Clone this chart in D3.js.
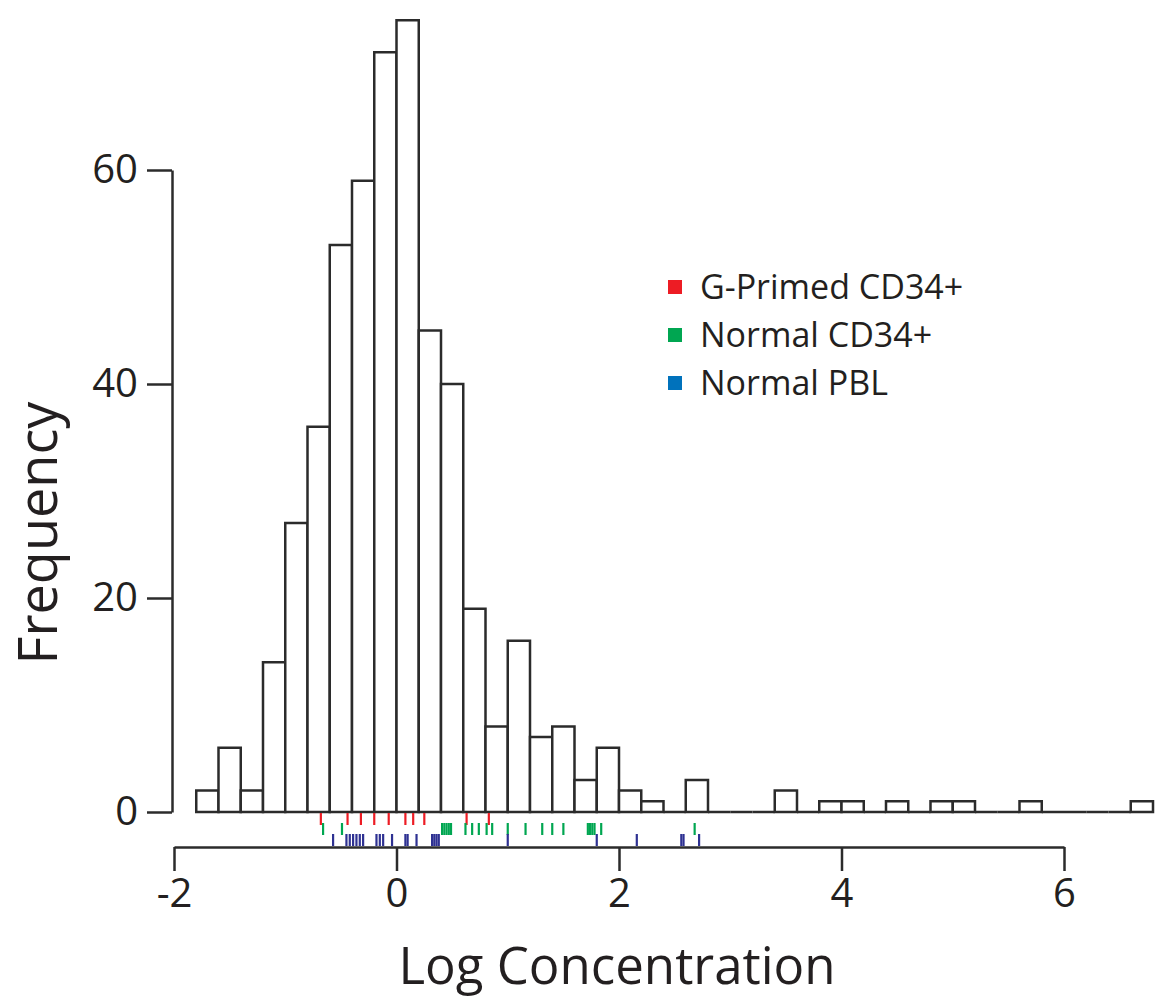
<!DOCTYPE html>
<html>
<head>
<meta charset="utf-8">
<script src="https://cdn.jsdelivr.net/npm/d3@7"></script>
<style>
  html, body { margin: 0; padding: 0; background: #fff; }
  svg { display: block; }
  text { font-family: "Open Sans", "Noto Sans", sans-serif; fill: #231f20; }
</style>
</head>
<body>
<svg id="chart" width="1155" height="998"></svg>
<script>
// ---- data ----
const binStarts = [-1.8, -1.6, -1.4, -1.2, -1.0, -0.8, -0.6, -0.4, -0.2, 0.0,
                   0.2, 0.4, 0.6, 0.8, 1.0, 1.2, 1.4, 1.6, 1.8, 2.0,
                   2.2, 2.4, 2.6, 2.8, 3.0, 3.2, 3.4, 3.6, 3.8, 4.0,
                   4.2, 4.4, 4.6, 4.8, 5.0, 5.2, 5.4, 5.6, 5.8, 6.0,
                   6.2, 6.4, 6.6];
const binWidth = 0.2;
const counts = [2, 6, 2, 14, 27, 36, 53, 59, 71, 74,
                45, 40, 19, 8, 16, 7, 8, 3, 6, 2,
                1, 0, 3, 0, 0, 0, 2, 0, 1, 1,
                0, 1, 0, 1, 1, 0, 0, 1, 0, 0,
                0, 0, 1];

const gPrimed = [-0.68, -0.44, -0.32, -0.20, -0.07, 0.08, 0.15, 0.25, 0.63, 0.83];
const normalCD34 = [-0.66, -0.49, 0.41, 0.43, 0.45, 0.47, 0.49, 0.62, 0.68, 0.74, 0.81, 0.86,
                    1.00, 1.16, 1.31, 1.40, 1.50, 1.72, 1.74, 1.76, 1.78, 1.84, 2.68];
const normalPBL = [-0.57, -0.45, -0.42, -0.39, -0.36, -0.33, -0.30, -0.18, -0.15, -0.12,
                   -0.04, 0.08, 0.10, 0.18, 0.32, 0.34, 0.36, 0.38, 1.00, 1.80, 2.16,
                   2.56, 2.58, 2.72];

const xTicks = [-2, 0, 2, 4, 6];
const yTicks = [0, 20, 40, 60];
const legendLabels = ["G-Primed CD34+", "Normal CD34+", "Normal PBL"];
const legendColors = ["#ed1c24", "#00a651", "#0072bc"];
const rugColors = ["#ed1c24", "#00a651", "#2e3192"];

// ---- layout ----
const svg = d3.select("#chart");
const ink = "#2b2b2b";
const x = d3.scaleLinear().domain([-2, 6]).range([174, 1064]);
const y = d3.scaleLinear().domain([0, 60]).range([812, 170]);

// histogram bars (paths so empty bins show as baseline)
svg.append("g").selectAll("path")
  .data(binStarts.map((b, i) => ({ x0: b, x1: b + binWidth, n: counts[i] })))
  .join("path")
  .attr("d", d => `M${x(d.x0)},${y(0)}V${y(d.n)}H${x(d.x1)}V${y(0)}Z`)
  .attr("fill", "#fff")
  .attr("stroke", ink)
  .attr("stroke-width", 2.5)
  .attr("stroke-linejoin", "miter");

// rugs
const rugs = [gPrimed, normalCD34, normalPBL];
const rugRows = [[813, 825], [823, 835], [834, 846]];
rugs.forEach((arr, k) => {
  svg.append("g").selectAll("line")
    .data(arr)
    .join("line")
    .attr("x1", d => x(d)).attr("x2", d => x(d))
    .attr("y1", rugRows[k][0]).attr("y2", rugRows[k][1])
    .attr("stroke", rugColors[k])
    .attr("stroke-width", 2.2);
});

// y axis
const yAxis = d3.axisLeft(y).tickValues(yTicks).tickSize(25).tickPadding(9).tickSizeOuter(0);
const gy = svg.append("g").attr("transform", "translate(172,0)").call(yAxis);
gy.select(".domain").attr("stroke", ink).attr("stroke-width", 2.5);
gy.selectAll(".tick line").attr("stroke", ink).attr("stroke-width", 2.5);
gy.selectAll(".tick text").attr("font-size", 40).attr("font-family", "Open Sans").attr("fill", "#231f20");

// x axis
const xAxis = d3.axisBottom(x).tickValues(xTicks).tickSize(24).tickPadding(8).tickSizeOuter(0)
  .tickFormat(d => d);
const gx = svg.append("g").attr("transform", "translate(0,847)").call(xAxis);
gx.select(".domain").attr("stroke", ink).attr("stroke-width", 2.5);
gx.selectAll(".tick line").attr("stroke", ink).attr("stroke-width", 2.5);
gx.selectAll(".tick text").attr("font-size", 40).attr("font-family", "Open Sans").attr("fill", "#231f20");

// axis titles
svg.append("text")
  .attr("x", 617).attr("y", 984)
  .attr("text-anchor", "middle")
  .attr("font-size", 51)
  .text("Log Concentration");

svg.append("text")
  .attr("transform", "translate(57,533) rotate(-90)")
  .attr("text-anchor", "middle")
  .attr("font-size", 54)
  .text("Frequency");

// legend
const lg = svg.append("g");
legendLabels.forEach((lab, i) => {
  const cy = 287 + i * 48;
  lg.append("rect")
    .attr("x", 668).attr("y", cy - 7).attr("width", 14).attr("height", 14)
    .attr("fill", legendColors[i]);
  lg.append("text")
    .attr("x", 700).attr("y", cy + 12)
    .attr("font-size", 34)
    .text(lab);
});
</script>
</body>
</html>
